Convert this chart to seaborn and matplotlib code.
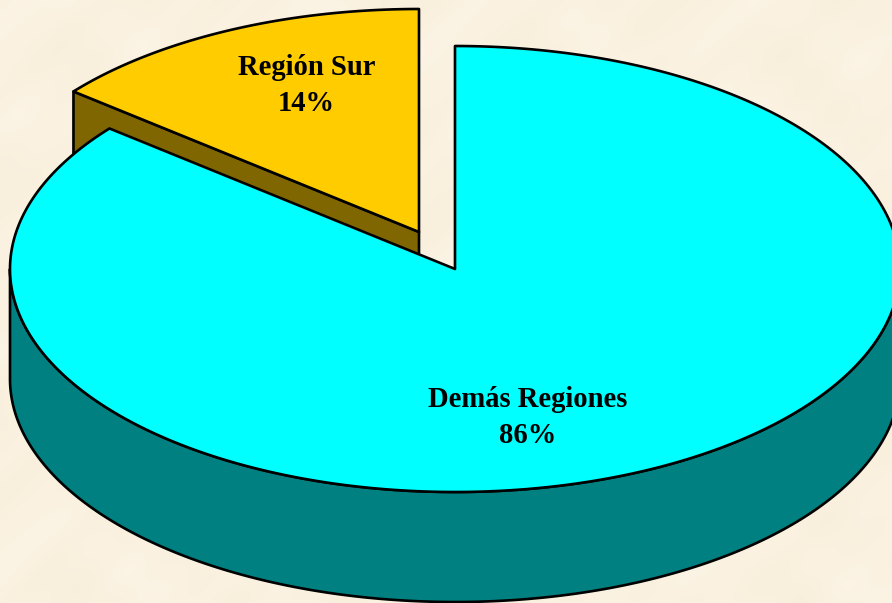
import numpy as np
import matplotlib
matplotlib.use("Agg")
import matplotlib.pyplot as plt
import seaborn as sns

regions = ["Región Sur", "Demás Regiones"]
shares = [14.15, 85.85]
top_colors = ["#FFCC00", "#00FFFF"]
side_colors = ["#806600", "#008080"]

sns.set_theme(style="white")
plt.rcParams["font.family"] = ["Liberation Serif", "DejaVu Serif"]

W, H = 892, 603
RX, RY, DEPTH = 445, 223, 110
sur_c = (419, 232)
main_c = (455, 269)


def rim(c, a0, a1, n=200):
    # angles clockwise from 12 o'clock, squashed to the pie ellipse
    t = np.radians(np.linspace(a0, a1, n))
    return c[0] + RX * np.sin(t), c[1] - RY * np.cos(t)


fig = plt.figure(figsize=(W / 100, H / 100), dpi=100)
ax = fig.add_axes([0, 0, 1, 1])
ax.set_xlim(0, W)
ax.set_ylim(H, 0)
ax.axis("off")

# parchment backdrop, faint mottling
yy, xx = np.mgrid[0:H:4, 0:W:4]
mott = (np.sin(xx / 23.0 + np.sin(yy / 41.0) * 2) + np.sin(yy / 17.0 + np.sin(xx / 37.0) * 2)
        + np.sin((xx + yy) / 9.0) * 0.5)
bg = np.dstack([250 + mott * 0.5, 241 + mott * 0.9, 224 + mott * 1.5]) / 255
ax.imshow(np.clip(bg, 0, 1), extent=(0, W, H, 0), aspect="auto", zorder=0, interpolation="bilinear")

sweep = 360 * shares[0] / sum(shares)
edge = dict(edgecolor="black", linewidth=1.9, joinstyle="round")

# Region Sur: the cut face first, the main slice hides most of it
xs, ys = rim(sur_c, 360 - sweep, 360)
ax.fill([xs[0], sur_c[0], sur_c[0], xs[0]], [ys[0], sur_c[1], sur_c[1] + DEPTH, ys[0] + DEPTH],
        facecolor=side_colors[0], zorder=1, **edge)
ax.fill(np.r_[sur_c[0], xs], np.r_[sur_c[1], ys], facecolor=top_colors[0], zorder=2, **edge)

# Demas Regiones: outer wall is the front half of the rim
xw, yw = rim(main_c, 90, 270)
ax.fill(np.r_[xw, xw[::-1]], np.r_[yw, yw[::-1] + DEPTH], facecolor=side_colors[1], zorder=3, **edge)
xm, ym = rim(main_c, 0, 360 - sweep, 400)
ax.fill(np.r_[main_c[0], xm], np.r_[main_c[1], ym], facecolor=top_colors[1], zorder=4, **edge)

font = dict(ha="center", va="center", fontsize=20.6, fontweight="bold", color="black", zorder=5,
            linespacing=1.47)
ax.text(306.5, 85.5, f"{regions[0]}\n{shares[0]:.0f}%", **font)
ax.text(527.5, 417.5, f"{regions[1]}\n{shares[1]:.0f}%", **font)

fig.savefig("out.png", dpi=100)
